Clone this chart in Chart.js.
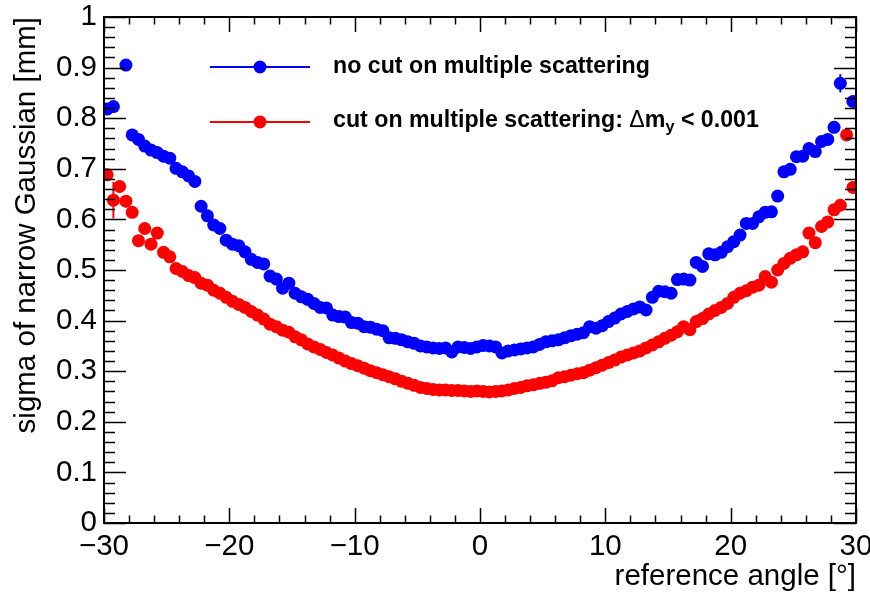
<!DOCTYPE html>
<html>
<head>
<meta charset="utf-8">
<script src="https://cdn.jsdelivr.net/npm/chart.js@4/dist/chart.umd.min.js"></script>
<style>
  html, body { margin: 0; padding: 0; background: #ffffff; }
  canvas { display: block; }
</style>
</head>
<body>
<canvas id="c" width="870" height="592"></canvas>
<script>
// Bin centres of the reference angle (degrees), 0.5 degree bins from -30 to 30
const angles = [
  -29.75,-29.25,-28.75,-28.25,-27.75,-27.25,-26.75,-26.25,-25.75,-25.25,
  -24.75,-24.25,-23.75,-23.25,-22.75,-22.25,-21.75,-21.25,-20.75,-20.25,
  -19.75,-19.25,-18.75,-18.25,-17.75,-17.25,-16.75,-16.25,-15.75,-15.25,
  -14.75,-14.25,-13.75,-13.25,-12.75,-12.25,-11.75,-11.25,-10.75,-10.25,
  -9.75,-9.25,-8.75,-8.25,-7.75,-7.25,-6.75,-6.25,-5.75,-5.25,
  -4.75,-4.25,-3.75,-3.25,-2.75,-2.25,-1.75,-1.25,-0.75,-0.25,
  0.25,0.75,1.25,1.75,2.25,2.75,3.25,3.75,4.25,4.75,
  5.25,5.75,6.25,6.75,7.25,7.75,8.25,8.75,9.25,9.75,
  10.25,10.75,11.25,11.75,12.25,12.75,13.25,13.75,14.25,14.75,
  15.25,15.75,16.25,16.75,17.25,17.75,18.25,18.75,19.25,19.75,
  20.25,20.75,21.25,21.75,22.25,22.75,23.25,23.75,24.25,24.75,
  25.25,25.75,26.25,26.75,27.25,27.75,28.25,28.75,29.25,29.75
];

// sigma of the narrow Gaussian [mm], no cut on multiple scattering
const sigmaNoCut = [
  0.818,0.823,null,0.905,0.767,0.758,0.745,0.737,0.732,0.725,
  0.721,0.701,0.694,0.686,0.675,0.626,0.607,0.589,0.582,0.559,
  0.551,0.548,0.536,0.521,0.515,0.512,0.488,0.482,0.464,0.474,
  0.454,0.447,0.442,0.434,0.426,0.425,0.411,0.408,0.407,0.396,
  0.395,0.388,0.387,0.383,0.380,0.366,0.365,0.362,0.358,0.355,
  0.350,0.348,0.346,0.345,0.346,0.338,0.348,0.347,0.345,0.348,
  0.351,0.350,0.348,0.336,0.340,0.342,0.344,0.346,0.348,0.353,
  0.358,0.360,0.362,0.366,0.370,0.373,0.376,0.388,0.385,0.390,
  0.398,0.405,0.413,0.418,0.423,0.427,0.421,0.446,0.458,0.457,
  0.454,0.481,0.482,0.480,0.515,0.507,0.532,0.530,0.535,0.546,
  0.556,0.569,0.592,0.592,0.605,0.614,0.615,0.646,0.694,0.699,
  0.724,0.725,0.740,0.734,0.754,0.758,0.782,0.869,null,0.833
];
const errNoCut = [
  0.010,0.010,0,0.012,0.006,0.006,0.006,0.006,0.006,0.006,
  0.006,0.006,0.006,0.006,0.006,0.005,0.005,0.005,0.005,0.005,
  0.004,0.004,0.004,0.004,0.004,0.004,0.004,0.004,0.004,0.004,
  0.004,0.004,0.004,0.004,0.004,0.004,0.004,0.004,0.004,0.004,
  0.004,0.004,0.004,0.004,0.004,0.004,0.004,0.004,0.004,0.004,
  0.004,0.004,0.004,0.004,0.004,0.004,0.004,0.004,0.004,0.004,
  0.004,0.004,0.004,0.004,0.004,0.004,0.004,0.004,0.004,0.004,
  0.004,0.004,0.004,0.004,0.004,0.004,0.004,0.004,0.004,0.004,
  0.004,0.004,0.004,0.004,0.004,0.004,0.004,0.004,0.004,0.004,
  0.004,0.004,0.004,0.004,0.004,0.004,0.004,0.004,0.004,0.004,
  0.005,0.005,0.005,0.005,0.005,0.006,0.006,0.006,0.006,0.006,
  0.006,0.006,0.006,0.006,0.006,0.006,0.008,0.018,0,0.010
];

// sigma of the narrow Gaussian [mm], cut on multiple scattering (delta m_y < 0.001)
const sigmaCut = [
  0.688,0.638,0.665,0.636,0.614,0.558,0.582,0.551,0.573,0.535,
  0.526,0.503,0.497,0.489,0.485,0.474,0.470,0.460,0.454,0.446,
  0.438,0.432,0.426,0.418,0.411,0.403,0.393,0.388,0.381,0.377,
  0.368,0.362,0.354,0.348,0.343,0.337,0.332,0.326,0.320,0.315,
  0.311,0.306,0.301,0.297,0.293,0.289,0.285,0.280,0.276,0.272,
  0.268,0.266,0.264,0.263,0.263,0.262,0.262,0.261,0.260,0.261,
  0.260,0.259,0.260,0.261,0.263,0.266,0.268,0.271,0.273,0.276,
  0.278,0.281,0.287,0.289,0.292,0.295,0.297,0.302,0.307,0.312,
  0.317,0.322,0.328,0.332,0.336,0.340,0.346,0.352,0.358,0.365,
  0.371,0.378,0.388,0.382,0.398,0.404,0.413,0.420,0.426,0.434,
  0.446,0.454,0.459,0.466,0.470,0.487,0.476,0.500,0.513,0.523,
  0.530,0.536,0.573,0.554,0.586,0.595,0.619,0.628,0.767,0.663
];
const errCut = [
  0.012,0.036,0.012,0.012,0.007,0.007,0.007,0.007,0.007,0.007,
  0.006,0.006,0.006,0.006,0.006,0.005,0.005,0.005,0.005,0.005,
  0.004,0.004,0.004,0.004,0.004,0.004,0.004,0.004,0.004,0.004,
  0.004,0.004,0.004,0.004,0.004,0.004,0.004,0.004,0.004,0.004,
  0.004,0.004,0.004,0.004,0.004,0.004,0.004,0.004,0.004,0.004,
  0.004,0.004,0.004,0.004,0.004,0.004,0.004,0.004,0.004,0.004,
  0.004,0.004,0.004,0.004,0.004,0.004,0.004,0.004,0.004,0.004,
  0.004,0.004,0.004,0.004,0.004,0.004,0.004,0.004,0.004,0.004,
  0.004,0.004,0.004,0.004,0.004,0.004,0.004,0.004,0.004,0.004,
  0.004,0.004,0.004,0.004,0.004,0.004,0.004,0.004,0.004,0.004,
  0.005,0.005,0.005,0.005,0.005,0.006,0.006,0.006,0.006,0.006,
  0.006,0.006,0.008,0.008,0.008,0.008,0.008,0.008,0.010,0.010
];

// Axis ranges and tick steps
const xRange = [-30, 30];
const yRange = [0, 1];
const xMajor = 10, xMinor = 2;
const yMajor = 0.1, yMinor = 0.02;

const seriesLabels = [
  'no cut on multiple scattering',
  'cut on multiple scattering: '
];
const xTitle = 'reference angle [\u00B0]';
const yTitle = 'sigma of narrow Gaussian [mm]';

const FONT = "'Liberation Sans', Arial, Helvetica, sans-serif";
const BLUE = '#0000ff';
const RED = '#ff0000';
const MARKER_R = 6.5;

function points(vals, errs) {
  const out = [];
  angles.forEach((a, i) => {
    if (vals[i] !== null) out.push({ x: a, y: vals[i], err: errs[i] });
  });
  return out;
}

function fmtTick(v) {
  const s = String(Math.round(v * 10) / 10);
  return s.replace('-', '\u2212');
}

// Vertical error bars, drawn underneath the markers
const errorBarPlugin = {
  id: 'errorBars',
  beforeDatasetsDraw(chart) {
    const ctx = chart.ctx;
    const ys = chart.scales.y, xs = chart.scales.x;
    ctx.save();
    chart.data.datasets.forEach((ds) => {
      ctx.strokeStyle = ds.backgroundColor;
      ctx.lineWidth = 2;
      ds.data.forEach((p) => {
        if (!p.err) return;
        const px = xs.getPixelForValue(p.x);
        ctx.beginPath();
        ctx.moveTo(px, ys.getPixelForValue(p.y - p.err));
        ctx.lineTo(px, ys.getPixelForValue(p.y + p.err));
        ctx.stroke();
      });
    });
    ctx.restore();
  }
};

// Frame with inward major/minor tick marks on all four sides
const framePlugin = {
  id: 'frameTicks',
  afterDatasetsDraw(chart) {
    const ctx = chart.ctx;
    const { left, right, top, bottom } = chart.chartArea;
    const xs = chart.scales.x, ys = chart.scales.y;
    const yMajLen = 22, yMinLen = 11;
    const xMajLen = 15, xMinLen = 7.5;
    ctx.save();
    ctx.strokeStyle = '#000';
    ctx.lineWidth = 1.5;
    ctx.beginPath();
    const nY = Math.round((yRange[1] - yRange[0]) / yMinor);
    for (let i = 0; i <= nY; i++) {
      const v = yRange[0] + i * yMinor;
      const py = Math.round(ys.getPixelForValue(v)) + 0.5;
      const major = i % Math.round(yMajor / yMinor) === 0;
      const len = major ? yMajLen : yMinLen;
      ctx.moveTo(left, py); ctx.lineTo(left + len, py);
      ctx.moveTo(right, py); ctx.lineTo(right - len, py);
    }
    const nX = Math.round((xRange[1] - xRange[0]) / xMinor);
    for (let i = 0; i <= nX; i++) {
      const v = xRange[0] + i * xMinor;
      const px = Math.round(xs.getPixelForValue(v)) + 0.5;
      const major = i % Math.round(xMajor / xMinor) === 0;
      const len = major ? xMajLen : xMinLen;
      ctx.moveTo(px, bottom); ctx.lineTo(px, bottom - len);
      ctx.moveTo(px, top); ctx.lineTo(px, top + len);
    }
    ctx.stroke();
    ctx.lineWidth = 2;
    ctx.strokeRect(left, top, right - left, bottom - top);
    ctx.restore();
  }
};

// Legend drawn inside the frame: line + marker, then bold text
const legendPlugin = {
  id: 'rootLegend',
  afterDraw(chart) {
    const ctx = chart.ctx;
    const rows = [67, 122];
    const x0 = 210, x1 = 310, xm = 260, xt = 333;
    const colors = [BLUE, RED];
    const fs = 23.2;
    ctx.save();
    rows.forEach((y, i) => {
      ctx.strokeStyle = colors[i];
      ctx.fillStyle = colors[i];
      ctx.lineWidth = 2;
      ctx.beginPath(); ctx.moveTo(x0, y); ctx.lineTo(x1, y); ctx.stroke();
      ctx.beginPath(); ctx.arc(xm, y, MARKER_R, 0, Math.PI * 2); ctx.fill();
    });
    ctx.fillStyle = '#000';
    ctx.textBaseline = 'middle';
    ctx.textAlign = 'left';
    ctx.font = `bold ${fs}px ${FONT}`;
    ctx.fillText(seriesLabels[0], xt, rows[0]);
    let x = xt;
    const y2 = rows[1] - 1;
    ctx.fillText(seriesLabels[1], x, y2);
    x += ctx.measureText(seriesLabels[1]).width;
    ctx.font = `${fs}px ${FONT}`;
    ctx.fillText('\u0394', x, y2);
    x += ctx.measureText('\u0394').width;
    ctx.font = `bold ${fs}px ${FONT}`;
    ctx.fillText('m', x, y2);
    x += ctx.measureText('m').width;
    ctx.font = `bold ${fs * 0.7}px ${FONT}`;
    ctx.fillText('y', x, y2 + 7);
    x += ctx.measureText('y').width;
    ctx.font = `bold ${fs}px ${FONT}`;
    ctx.fillText(' < 0.001', x, y2);
    ctx.restore();
  }
};

new Chart(document.getElementById('c'), {
  type: 'scatter',
  data: {
    datasets: [
      {
        label: seriesLabels[0],
        data: points(sigmaNoCut, errNoCut),
        backgroundColor: BLUE,
        borderColor: BLUE,
        pointRadius: MARKER_R,
        pointBorderWidth: 0,
        order: 2
      },
      {
        label: seriesLabels[1],
        data: points(sigmaCut, errCut),
        backgroundColor: RED,
        borderColor: RED,
        pointRadius: MARKER_R,
        pointBorderWidth: 0,
        order: 1
      }
    ]
  },
  options: {
    responsive: false,
    animation: false,
    devicePixelRatio: 1,
    layout: { padding: { left: 0, right: 14, top: 17, bottom: 0 } },
    plugins: { legend: { display: false }, tooltip: { enabled: false } },
    scales: {
      x: {
        type: 'linear',
        position: 'bottom',
        min: xRange[0], max: xRange[1],
        grid: { display: false, drawTicks: false },
        border: { display: false },
        ticks: {
          stepSize: xMajor, padding: 6, color: '#000', maxRotation: 0, autoSkip: false,
          font: { family: FONT, size: 29.5 },
          callback: (v) => fmtTick(v)
        },
        title: {
          display: true, text: xTitle, align: 'end', color: '#000', padding: 0,
          font: { family: FONT, size: 29.5, lineHeight: 1 }
        },
        afterFit(s) { s.height = 69; s.paddingLeft = 0; s.paddingRight = 0; }
      },
      y: {
        type: 'linear',
        position: 'left',
        min: yRange[0], max: yRange[1],
        grid: { display: false, drawTicks: false },
        border: { display: false },
        ticks: {
          stepSize: yMajor, padding: 7, color: '#000', autoSkip: false,
          font: { family: FONT, size: 29.5 },
          callback: (v) => fmtTick(v)
        },
        title: {
          display: true, text: yTitle, align: 'end', color: '#000',
          padding: { top: 12, bottom: 0 },
          font: { family: FONT, size: 29.5, lineHeight: 1 }
        },
        afterFit(s) { s.width = 104; s.paddingTop = 0; s.paddingBottom = 0; }
      }
    }
  },
  plugins: [errorBarPlugin, framePlugin, legendPlugin]
});
</script>
</body>
</html>
